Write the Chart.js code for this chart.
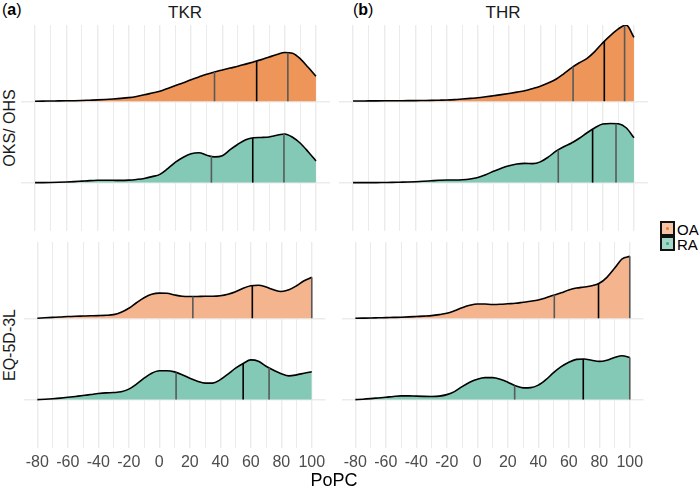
<!DOCTYPE html>
<html><head><meta charset="utf-8">
<script src="https://cdn.jsdelivr.net/npm/chart.js@4.4.0/dist/chart.umd.min.js"></script>
<style>
body{margin:0;width:700px;height:489px;background:#fff;position:relative;overflow:hidden;font-family:"Liberation Sans",Arial,Helvetica,sans-serif}
.panel{position:absolute}
.txt{position:absolute;white-space:nowrap;line-height:1}
.key{position:absolute;width:11px;height:11px;border:2px solid #111;box-sizing:content-box}
.key span{position:absolute;left:4px;top:4px;width:3px;height:3px;border-radius:50%}
</style></head><body>
<div class="panel" style="left:21px;top:25px"><canvas id="c1" width="309" height="206"></canvas></div>
<div class="panel" style="left:339px;top:25px"><canvas id="c2" width="309" height="206"></canvas></div>
<div class="panel" style="left:21px;top:242px"><canvas id="c3" width="309" height="236"></canvas></div>
<div class="panel" style="left:339px;top:242px"><canvas id="c4" width="309" height="236"></canvas></div>

<div class="txt" style="left:2px;top:2px;font-size:16px;color:#000">(<b>a</b>)</div>
<div class="txt" style="left:353px;top:2px;font-size:16px;color:#000">(<b>b</b>)</div>
<div class="txt" style="left:185px;top:4px;font-size:17px;color:#1A1A1A;transform:translateX(-50%)">TKR</div>
<div class="txt" style="left:503px;top:4px;font-size:17px;color:#1A1A1A;transform:translateX(-50%)">THR</div>
<div class="txt" style="left:10px;top:128px;font-size:16px;color:#1A1A1A;transform:translate(-50%,-50%) rotate(-90deg)">OKS/ OHS</div>
<div class="txt" style="left:10px;top:345px;font-size:16px;color:#1A1A1A;transform:translate(-50%,-50%) rotate(-90deg)">EQ-5D-3L</div>
<div class="txt" style="left:334px;top:471px;font-size:18px;color:#000;transform:translateX(-50%)">PoPC</div>

<div class="key" style="left:660px;top:221px;background:#F6C4A4"><span style="background:#E07A3A"></span></div>
<div class="txt" style="left:677px;top:222px;font-size:15px;color:#000">OA</div>
<div class="key" style="left:660px;top:236px;background:#A3D8C8"><span style="background:#3AA886"></span></div>
<div class="txt" style="left:677px;top:237px;font-size:15px;color:#000">RA</div>

<script>
// PoPC grid on which the densities were read
const popc = [-80,-75,-70,-65,-60,-55,-50,-45,-40,-35,-30,-25,-20,-15,-10,-5,0,5,10,15,20,25,30,35,40,45,50,55,60,65,70,75,80,85,90,95,100];
const gridBreaks = [-80,-70,-60,-50,-40,-30,-20,-10,0,10,20,30,40,50,60,70,80,90,100];
const xTickLabels = [-80,-60,-40,-20,0,20,40,60,80,100];
const groups = ['OA','RA'];

// relative density heights
const tkrOksOA = [0,0.1,0.2,0.3,0.4,0.5,0.7,1.0,1.3,1.7,2.2,2.8,3.6,4.8,6.4,8.2,10,12.8,15.7,18.5,21.5,24.3,27,29.3,31.3,33.2,35,37.2,39.4,41.7,44.3,46.8,48.8,48,42.5,34,25];
const tkrOksRA = [0,0,0.1,0.3,0.6,1.0,1.5,2.0,2.3,2.4,2.3,2.2,2.5,3.2,4.2,6,8.3,14,20.5,25.5,29,30,27.5,25.8,27,33,38.5,43,45,45.3,45.8,47.5,48.8,45.5,39.5,31,21.7];
const thrOksOA = [0.2,0.25,0.3,0.35,0.4,0.45,0.5,0.55,0.6,0.7,0.8,1.0,1.2,1.6,2.2,2.8,3.4,4.4,5.5,6.6,7.8,9.1,10.5,12.6,15,18.2,22,27.5,33.5,38.5,43,50,58.5,66,72.5,76.5,64];
const thrOksRA = [0,0,0,0,0.1,0.2,0.4,0.6,0.9,1.3,1.8,2.3,2.6,2.6,2.8,3.6,5.2,8,11.3,14.5,17,18.7,19.3,19,20.8,25.5,31.5,36,39.7,44.5,50,55,58.8,59.3,59,55,45];
const tkrEqOA = [0,0.4,0.8,1.2,1.7,2.0,2.2,2.4,2.6,2.9,3.6,6,10,15.5,20.5,24,25.2,25,23.3,22,21.7,21.8,22,22,22.5,24,26.5,30,32.5,33,31.3,28.5,26.8,28.5,32.5,37.5,41];
const tkrEqRA = [0,0.4,0.9,1.5,2.3,3.2,4.1,5.1,6.1,6.8,7.1,7.8,10.5,15.5,21.5,26.5,29,29,27.8,25,21.5,18.5,16.5,16.5,20,25.5,31.5,36.2,39.8,38.5,33.5,29.5,26,23.8,24.8,26.5,28];
const thrEqOA = [0,0.1,0.2,0.4,0.6,0.8,1,1.3,1.7,2.1,2.6,3.6,5,7.5,10.5,13,14.3,14.2,13.8,14,14.5,15,16,17,18.3,20.5,23,25.5,28.2,30.2,31.3,32.5,35,41,50,59.5,62];
const thrEqRA = [0,0.4,1,1.7,2.4,3.2,3.8,3.8,3.5,3.3,3.2,3.5,5,8,13,17.5,20.5,22,22,20.5,17.5,13.8,11.8,12,14.5,20,27,33,37.5,40.3,40.7,39.5,38.3,39.5,42.2,44,42.3];

// quartiles [25th, 50th, 75th]
const tkrOksOAq = [35, 62, 82];
const tkrOksRAq = [33, 59.5, 79.5];
const thrOksOAq = [61, 81, 94];
const thrOksRAq = [51.5, 73.5, 88.5];
const tkrEqOAq = [22, 61, 100];
const tkrEqRAq = [11, 55, 72];
const thrEqOAq = [50.5, 79.5, 100];
const thrEqRAq = [24.5, 69.5, 100];

const FONT = '"Liberation Sans", Arial, Helvetica, sans-serif';
const BASE = {OA: 81.6, RA: 0};

function densAt(arr, q){
  for (let i = 0; i < popc.length - 1; i++){
    if (q >= popc[i] && q <= popc[i+1]){
      const t = (q - popc[i]) / (popc[i+1] - popc[i]);
      return arr[i] + t * (arr[i+1] - arr[i]);
    }
  }
  return arr[arr.length-1];
}

function ridge(arr, base, fillColor){
  return {
    type:'line', order:2,
    data: popc.map((x,i)=>({x:x, y: base + arr[i]})),
    borderColor:'#000', borderWidth:1.6, pointRadius:0,
    cubicInterpolationMode:'monotone',
    fill:{value: base}, backgroundColor: fillColor
  };
}
function qlines(arr, qs, base){
  const cols = ['#595959','#000000','#595959'];
  return qs.map((q,k)=>({
    type:'line', order:1,
    data:[{x:q,y:base},{x:q,y:base+densAt(arr,q)}],
    borderColor: cols[k], borderWidth:1.6, pointRadius:0, fill:false
  }));
}

function makeChart(id, oa, oaq, ra, raq, oaFill, bottom){
  const datasets = [
    ...qlines(oa, oaq, BASE.OA),
    ...qlines(ra, raq, BASE.RA),
    ridge(oa, BASE.OA, oaFill),
    ridge(ra, BASE.RA, '#83C9B5')
  ];
  new Chart(document.getElementById(id), {
    type:'line',
    data:{datasets},
    options:{
      responsive:false, animation:false, events:[],
      layout:{padding:0},
      plugins:{legend:{display:false}, tooltip:{enabled:false}},
      scales:{
        x:{type:'linear', min:-89, max:109,
          afterBuildTicks: s => { s.ticks = gridBreaks.map(v=>({value:v})); },
          afterFit: s => { s.height = bottom ? 30 : 0; },
          grid:{color:'#EBEBEB', lineWidth: c => (xTickLabels.includes(c.tick && c.tick.value) ? 1.4 : 1.0), drawTicks:false},
          border:{display:false},
          ticks:{display:bottom, autoSkip:false, maxRotation:0, padding:5, color:'#4D4D4D',
            font:{size:16, family:FONT},
            callback: v => xTickLabels.includes(v) ? String(v) : ''}
        },
        y:{type:'linear', min:-48.5, max:158,
          afterBuildTicks: s => { s.ticks = groups.map(g=>({value:BASE[g]})); },
          afterFit: s => { s.width = 0; },
          grid:{color:'#EBEBEB', lineWidth:1.4, drawTicks:false},
          border:{display:false},
          ticks:{display:false}
        }
      }
    }
  });
}

makeChart('c1', tkrOksOA, tkrOksOAq, tkrOksRA, tkrOksRAq, '#EE955A', false);
makeChart('c2', thrOksOA, thrOksOAq, thrOksRA, thrOksRAq, '#EE955A', false);
makeChart('c3', tkrEqOA, tkrEqOAq, tkrEqRA, tkrEqRAq, '#F4B48E', true);
makeChart('c4', thrEqOA, thrEqOAq, thrEqRA, thrEqRAq, '#F4B48E', true);
</script>
</body></html>
